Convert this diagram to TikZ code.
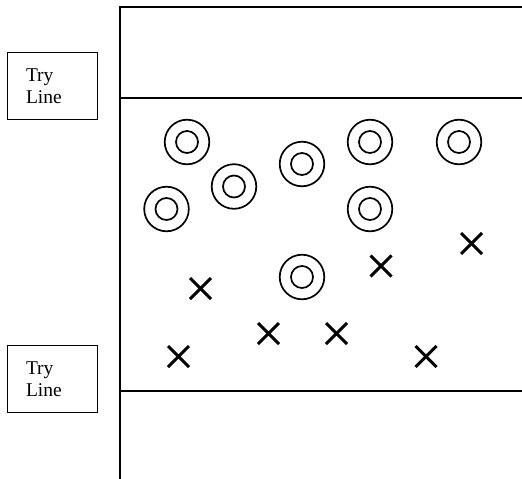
\documentclass[tikz,border=0pt]{standalone}
\usepackage{fontspec}
\setmainfont{Liberation Serif}
\begin{document}
\begin{tikzpicture}[x=1pt,y=-1pt,
  fieldline/.style={line width=2pt},
  labelbox/.style={draw,line width=1.6pt,minimum width=90pt,minimum height=67pt,
    inner sep=0pt,text width=53pt,align=left,
    font=\fontsize{19.5}{22}\selectfont},
  ring/.style={line width=1.7pt},
  cross/.style={line width=3pt}]
\useasboundingbox (0,0) rectangle (522,479);

% field boundaries
\coordinate (vtop) at (120,7);
\coordinate (vbot) at (120,479);
\coordinate (ttopR) at (522,7);
\coordinate (tryAL) at (120,97.5);
\coordinate (tryAR) at (522,97.5);
\coordinate (tryBL) at (120,391);
\coordinate (tryBR) at (522,391);
\draw[fieldline] (vbot) -- (vtop) -- (ttopR);
\draw[fieldline] (tryAL) -- (tryAR);
\draw[fieldline] (tryBL) -- (tryBR);

% try line labels
\node[labelbox] (labA) at (52.5,86) {Try\\Line};
\node[labelbox] (labB) at (52.5,379) {Try\\Line};

% defenders (rings)
\foreach \n/\x/\y in {r1/187/142, r2/166.5/209, r3/234/186.5, r4/302/164,
                      r5/370/142, r6/459/142, r7/370/209, r8/302/277}{
  \coordinate (\n) at (\x,\y);
  \draw[ring] (\n) circle (22.3);
  \draw[ring] (\n) circle (11);
}

% attackers (crosses)
\foreach \n/\x/\y in {c1/200.5/288.5, c2/268.5/333.5, c3/336.5/333.5, c4/178.5/356.5,
                      c5/471.5/243.5, c6/381/266, c7/426/356.5}{
  \coordinate (\n) at (\x,\y);
  \draw[cross] ([shift={(-10.5,-10.5)}]\n) -- ([shift={(10.5,10.5)}]\n);
  \draw[cross] ([shift={(-10.5,10.5)}]\n) -- ([shift={(10.5,-10.5)}]\n);
}
\end{tikzpicture}
\end{document}
